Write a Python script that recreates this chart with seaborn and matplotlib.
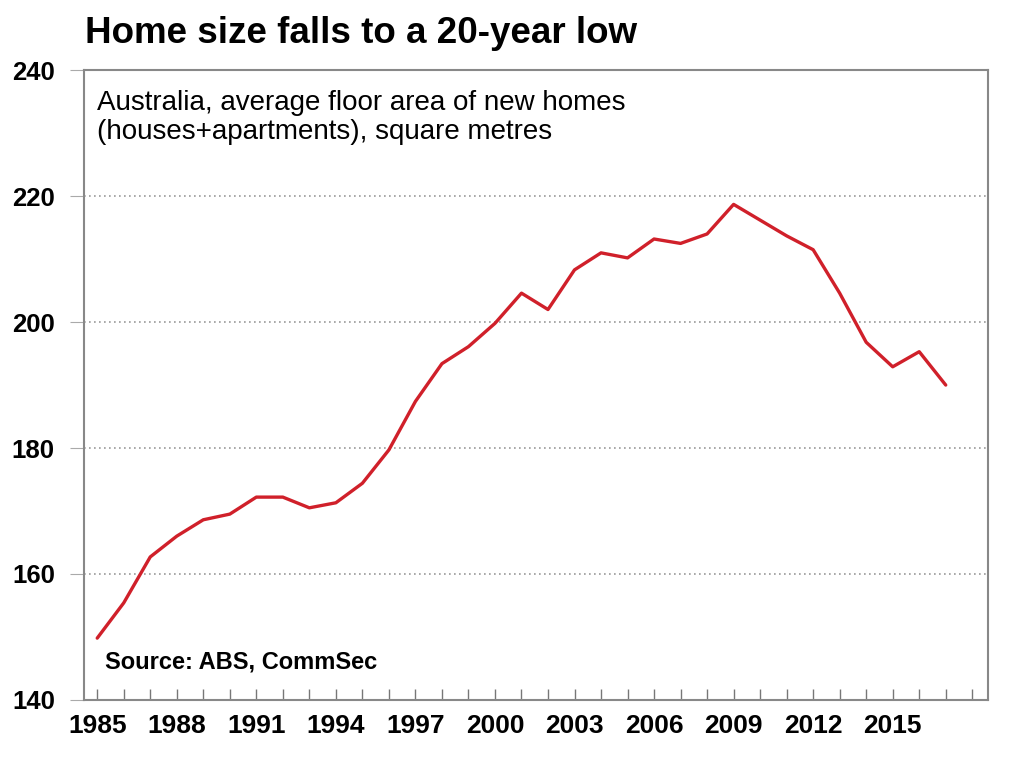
import matplotlib
matplotlib.use("Agg")
from matplotlib import pyplot as plt
from matplotlib.ticker import MultipleLocator
import pandas as pd
import seaborn as sns

# data
years = list(range(1985, 2018))
floor_area = [149.8, 155.4, 162.7, 166.0, 168.6, 169.5, 172.2, 172.2, 170.5, 171.3,
              174.4, 179.7, 187.4, 193.4, 196.1, 199.8, 204.6, 202.0, 208.3, 211.0,
              210.2, 213.2, 212.5, 214.0, 218.7, 216.2, 213.7, 211.5, 204.6, 196.8,
              192.9, 195.3, 190.0]
y_ticks = [140, 160, 180, 200, 220, 240]
x_ticks = [1985, 1988, 1991, 1994, 1997, 2000, 2003, 2006, 2009, 2012, 2015]

df = pd.DataFrame({"year": years, "area": floor_area})

sns.set_style("white")
plt.rcParams['font.family'] = ['Liberation Sans', 'DejaVu Sans']
plt.rcParams['text.color'] = 'black'
plt.rcParams['xtick.labelcolor'] = 'black'
plt.rcParams['ytick.labelcolor'] = 'black'

fig = plt.figure(figsize=(10.24, 7.64), dpi=100)
ax = fig.add_axes([0.082, 0.084, 0.883, 0.824])

sns.lineplot(data=df, x="year", y="area", color="#d0202a", linewidth=2.4, ax=ax)

ax.set_xlim(1984.5, 2018.6)
ax.set_ylim(140, 240)
ax.set_xticks(x_ticks)
ax.xaxis.set_minor_locator(MultipleLocator(1))
ax.set_yticks(y_ticks)
ax.set_xlabel("")
ax.set_ylabel("")

for lab in ax.get_xticklabels():
    lab.set_fontweight("bold")
    lab.set_fontsize(19)
for lab in ax.get_yticklabels():
    lab.set_fontweight("bold")
    lab.set_fontsize(18.5)
ax.tick_params(axis="x", which="both", direction="in", length=8, width=1,
               color="#777777", pad=10, bottom=True)
ax.tick_params(axis="y", which="major", direction="out", length=10, width=0.8,
               color="#aaaaaa", pad=11, left=True)

ax.grid(axis="y", color="#999999", linestyle=(0, (1, 2)), linewidth=1.2)
for s in ax.spines.values():
    s.set_color("#888888")
    s.set_linewidth(1.5)

fig.text(0.083, 0.956, "Home size falls to a 20-year low", fontsize=26.5,
         fontweight="bold", va="center", ha="left")
ax.text(0.014, 0.968, "Australia, average floor area of new homes\n(houses+apartments), square metres",
        transform=ax.transAxes, fontsize=20, va="top", ha="left", linespacing=1.12)
ax.text(0.023, 0.06, "Source: ABS, CommSec", transform=ax.transAxes, fontsize=17,
        fontweight="bold", va="center", ha="left")

plt.savefig("out.png", dpi=100)
